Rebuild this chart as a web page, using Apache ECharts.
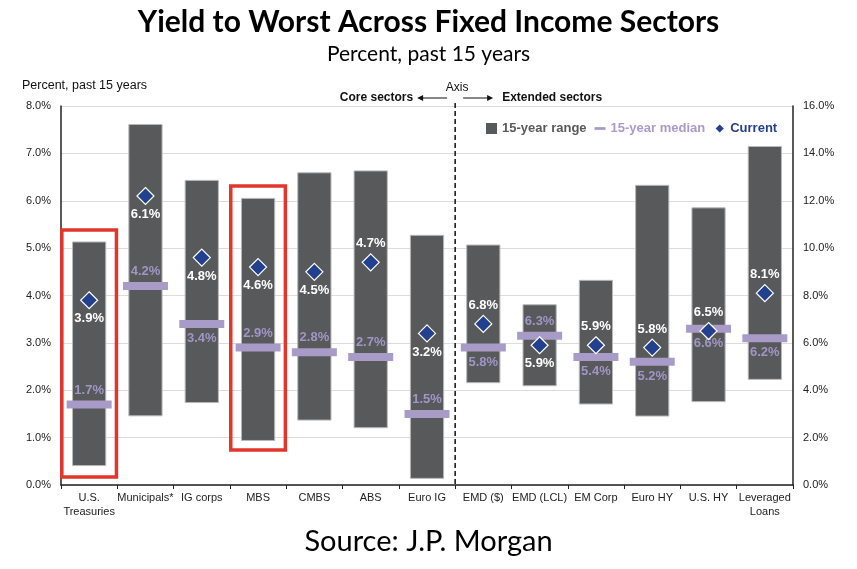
<!DOCTYPE html>
<html lang="en">
<head>
<meta charset="UTF-8">
<title>Yield to Worst Across Fixed Income Sectors</title>
<script src="https://cdn.jsdelivr.net/npm/echarts@6/dist/echarts.min.js"></script>
<style>
  html, body { margin: 0; padding: 0; background: #fff; }
  #main { width: 857px; height: 569px; }
</style>
</head>
<body>
<div id="main"></div>
<script>
// sectors; the first 7 use the left axis, the rest use the right axis
var categories = ['U.S.\nTreasuries', 'Municipals*', 'IG corps', 'MBS', 'CMBS', 'ABS', 'Euro IG',
                  'EMD ($)', 'EMD (LCL)', 'EM Corp', 'Euro HY', 'U.S. HY', 'Leveraged\nLoans'];
var coreCount = 7;
var rangeLow  = [0.41, 1.46, 1.74, 0.94, 1.37, 1.21, 0.14, 4.32, 4.19, 3.42, 2.91, 3.52, 4.46];
var rangeHigh = [5.13, 7.61, 6.43, 6.05, 6.59, 6.63, 5.27, 10.13, 7.61, 8.64, 12.65, 11.70, 14.29];
var median    = [1.7, 4.2, 3.4, 2.9, 2.8, 2.7, 1.5, 5.8, 6.3, 5.4, 5.2, 6.6, 6.2];
var current   = [3.9, 6.1, 4.8, 4.6, 4.5, 4.7, 3.2, 6.8, 5.9, 5.9, 5.8, 6.5, 8.1];
var leftTicks = [0, 8, 1];
var rightTicks = [0, 16, 2];
// red highlight boxes (category index, low, high on left axis)
var highlightIdx  = [0, 3];
var highlightLow  = [0.17, 0.74];
var highlightHigh = [5.38, 6.31];

// where each value label sits
var currentLabelPos = ['bottom', 'bottom', 'bottom', 'bottom', 'bottom', 'top', 'bottom', 'top', 'bottom', 'top', 'top', 'top', 'top'];
var medianLabelPos  = ['top', 'top', 'bottom', 'top', 'top', 'top', 'top', 'bottom', 'top', 'bottom', 'bottom', 'bottom', 'bottom'];

var font = "'Liberation Sans', Arial, sans-serif";
var pct = function (v) { return v.toFixed(1) + '%'; };

function groupIdx(axis) {
    var out = [];
    for (var i = 0; i < categories.length; i++) {
        if ((i < coreCount ? 0 : 1) === axis) out.push(i);
    }
    return out;
}

function rangeItem(params, api) {
    var x = api.value(0);
    var top = api.coord([x, api.value(2)]);
    var bot = api.coord([x, api.value(1)]);
    var w = api.size([1, 0])[0] * 0.59;
    return {
        type: 'rect',
        shape: { x: top[0] - w / 2, y: top[1], width: w, height: bot[1] - top[1] },
        style: { fill: '#58595b', stroke: '#b9b9b9', lineWidth: 1 }
    };
}

function boxItem(params, api) {
    var x = api.value(0);
    var top = api.coord([x, api.value(2)]);
    var bot = api.coord([x, api.value(1)]);
    var w = api.size([1, 0])[0] * 0.97;
    return {
        type: 'rect',
        shape: { x: top[0] - w / 2, y: top[1], width: w, height: bot[1] - top[1] },
        style: { fill: 'none', stroke: '#e2362c', lineWidth: 3.5 }
    };
}

var series = [];
[0, 1].forEach(function (axis) {
    var idx = groupIdx(axis);
    series.push({
        name: '15-year range',
        type: 'custom',
        yAxisIndex: axis,
        renderItem: rangeItem,
        itemStyle: { color: '#58595b' },
        encode: { x: 0, y: [1, 2] },
        data: idx.map(function (i) { return [i, rangeLow[i], rangeHigh[i]]; }),
        z: 1
    });
    series.push({
        name: '15-year median',
        type: 'scatter',
        yAxisIndex: axis,
        symbol: 'rect',
        symbolSize: [45, 8],
        itemStyle: { color: '#a99bc8', opacity: 1 },
        label: {
            show: true, distance: 4, color: '#a195c6', fontWeight: 'bold', fontSize: 13, fontFamily: font,
            formatter: function (p) { return pct(p.value[1]); }
        },
        data: idx.map(function (i) { return { value: [i, median[i]], label: { position: medianLabelPos[i] } }; }),
        z: 2
    });
    series.push({
        name: 'Current',
        type: 'scatter',
        yAxisIndex: axis,
        symbol: 'diamond',
        symbolSize: 17,
        itemStyle: { color: '#23408e', borderColor: '#ffffff', borderWidth: 1.2, opacity: 1 },
        label: {
            show: true, distance: 3, color: '#ffffff', fontWeight: 'bold', fontSize: 13, fontFamily: font,
            formatter: function (p) { return pct(p.value[1]); }
        },
        data: idx.map(function (i) { return { value: [i, current[i]], label: { position: currentLabelPos[i] } }; }),
        z: 3
    });
});
series.push({
    type: 'custom',
    renderItem: boxItem,
    encode: { x: 0, y: [1, 2] },
    data: highlightIdx.map(function (i, k) { return [i, highlightLow[k], highlightHigh[k]]; }),
    silent: true,
    z: 4
});

var chart = echarts.init(document.getElementById('main'));
chart.setOption({
    animation: false,
    title: [
        { text: 'Yield to Worst Across Fixed Income Sectors', left: 'center', top: 2,
          textStyle: { fontFamily: 'Lato', fontWeight: 'bold', fontSize: 30, color: '#000' } },
        { text: 'Percent, past 15 years', left: 'center', top: 39,
          textStyle: { fontFamily: 'Lato', fontWeight: 'normal', fontSize: 21, color: '#000' } },
        { text: 'Source: J.P. Morgan', left: 'center', top: 522,
          textStyle: { fontFamily: 'Lato', fontWeight: 'normal', fontSize: 29, color: '#000' } }
    ],
    legend: {
        left: 481, top: 117,
        itemWidth: 11, itemHeight: 11, itemGap: 8,
        selectedMode: false,
        textStyle: { fontFamily: font, fontWeight: 'bold', fontSize: 13 },
        data: [
            { name: '15-year range', icon: 'rect', textStyle: { color: '#58595b' } },
            { name: '15-year median', icon: 'path://M0,0H12V3H0Z', textStyle: { color: '#a99bc8' } },
            { name: 'Current', icon: 'diamond', textStyle: { color: '#23408e' } }
        ]
    },
    grid: { left: 61, right: 64, top: 106, bottom: 84 },
    xAxis: {
        type: 'category',
        data: categories,
        boundaryGap: true,
        axisLine: { lineStyle: { color: '#222', width: 1.5 } },
        axisTick: { show: true, length: 4, lineStyle: { color: '#222' } },
        axisLabel: { interval: 0, fontSize: 11, color: '#222', fontFamily: font, lineHeight: 14, margin: 6 }
    },
    yAxis: [
        {
            type: 'value', min: leftTicks[0], max: leftTicks[1], interval: leftTicks[2],
            axisLine: { show: true, lineStyle: { color: '#222', width: 1.5 } },
            axisTick: { show: false },
            splitLine: { lineStyle: { color: '#dcdcdc' } },
            axisLabel: { formatter: pct, fontSize: 11, color: '#222', fontFamily: font, margin: 10 }
        },
        {
            type: 'value', position: 'right', min: rightTicks[0], max: rightTicks[1], interval: rightTicks[2],
            axisLine: { show: true, lineStyle: { color: '#222', width: 1.5 } },
            axisTick: { show: false },
            splitLine: { show: false },
            axisLabel: { formatter: pct, fontSize: 11, color: '#222', fontFamily: font, margin: 10 }
        }
    ],
    series: series
});

// annotations tied to the core / extended boundary
var xDiv = (chart.convertToPixel({ xAxisIndex: 0 }, coreCount - 1) + chart.convertToPixel({ xAxisIndex: 0 }, coreCount)) / 2;
var yTop = chart.convertToPixel({ yAxisIndex: 0 }, leftTicks[1]);
var yBot = chart.convertToPixel({ yAxisIndex: 0 }, leftTicks[0]);
var yHead = 98;
var lbl = { fontFamily: font, fontSize: 12, fill: '#111' };

chart.setOption({
    graphic: [
        { type: 'text', left: 22, top: 79, style: Object.assign({ text: 'Percent, past 15 years' }, lbl, { fontSize: 12.5 }) },
        { type: 'line', shape: { x1: xDiv, y1: yTop - 3, x2: xDiv, y2: yBot + 2 },
          style: { stroke: '#111', lineWidth: 1.5, lineDash: [5, 3] }, z: 10 },
        { type: 'text', x: xDiv - 42, y: yHead,
          style: Object.assign({ text: 'Core sectors', fontWeight: 'bold', align: 'right', verticalAlign: 'middle' }, lbl) },
        { type: 'line', shape: { x1: xDiv - 34, y1: yHead, x2: xDiv - 8, y2: yHead }, style: { stroke: '#111', lineWidth: 1 } },
        { type: 'polygon', shape: { points: [[xDiv - 38, yHead], [xDiv - 32, yHead - 3], [xDiv - 32, yHead + 3]] }, style: { fill: '#111' } },
        { type: 'text', x: xDiv + 2, y: 88,
          style: Object.assign({ text: 'Axis', align: 'center', verticalAlign: 'middle' }, lbl) },
        { type: 'line', shape: { x1: xDiv + 8, y1: yHead, x2: xDiv + 33, y2: yHead }, style: { stroke: '#111', lineWidth: 1 } },
        { type: 'polygon', shape: { points: [[xDiv + 38, yHead], [xDiv + 32, yHead - 3], [xDiv + 32, yHead + 3]] }, style: { fill: '#111' } },
        { type: 'text', x: xDiv + 47, y: yHead,
          style: Object.assign({ text: 'Extended sectors', fontWeight: 'bold', align: 'left', verticalAlign: 'middle' }, lbl) }
    ]
});
</script>
</body>
</html>
